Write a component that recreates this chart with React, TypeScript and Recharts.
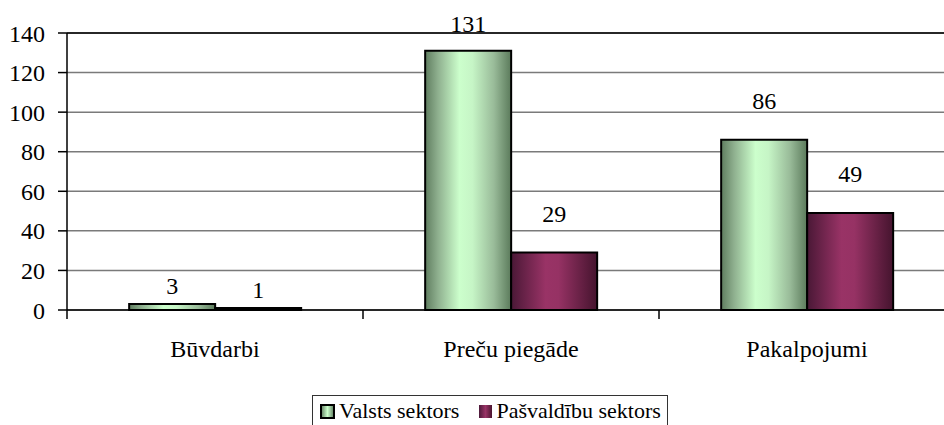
import React from 'react';
import {
    BarChart, Bar, XAxis, YAxis, CartesianGrid, Legend, LabelList, ReferenceLine,
} from 'recharts';

const categories = ['Būvdarbi', 'Preču piegāde', 'Pakalpojumi'];
const valstsSektors = [3, 131, 86];
const pasvaldibuSektors = [1, 29, 49];
const yTicks = [0, 20, 40, 60, 80, 100, 120, 140];
const seriesNames = ['Valsts sektors', 'Pašvaldību sektors'];

const data = categories.map((name, i) => ({
    name,
    valsts: valstsSektors[i],
    pasvaldibu: pasvaldibuSektors[i],
}));

const FONT = "'Liberation Serif', 'Times New Roman', serif";
const CHART_W = 960;
const CHART_H = 425;
const MARGIN = { top: 33, right: 5, left: 0, bottom: 0 };
const Y_AXIS_W = 67;
const BAND_W = (CHART_W - MARGIN.left - MARGIN.right - Y_AXIS_W) / categories.length;

// category label in the middle, tick mark on the band's left edge (Excel style)
const CategoryTick = (props: any) => {
    const { x, y, payload, index } = props;
    const left = x - BAND_W / 2;
    return (
        <g>
            <line x1={left} x2={left} y1={y - 9} y2={y} stroke="#000" strokeWidth={1.5} />
            {index === categories.length - 1 && (
                <line x1={x + BAND_W / 2} x2={x + BAND_W / 2} y1={y - 9} y2={y} stroke="#000" strokeWidth={1.5} />
            )}
            <text x={x} y={y + 38} textAnchor="middle" style={{ fontSize: 24, fontFamily: FONT }} fill="#000">
                {payload.value}
            </text>
        </g>
    );
};

const ValueLabel = (props: any) => {
    const { x, y, width, value } = props;
    const base = value < 10 ? y - 10 : Math.max(y - 31, 32);
    return (
        <text x={x + width / 2} y={base} textAnchor="middle" style={{ fontSize: 24, fontFamily: FONT }} fill="#000">
            {value}
        </text>
    );
};

const LegendBox = () => (
    <div style={{
        border: '1px solid #333', display: 'flex', alignItems: 'center',
        padding: '2px 6px 4px 7px', fontFamily: FONT, fontSize: 22, background: '#fff',
        whiteSpace: 'nowrap', lineHeight: '26px', color: '#000',
    }}>
        <span style={{
            width: 11, height: 11, border: '2px solid #000', display: 'inline-block',
            background: 'linear-gradient(90deg, #6f8f6f, #ccffcc 50%, #6f8f6f)', marginRight: 4,
        }} />
        <span style={{ marginRight: 20 }}>{seriesNames[0]}</span>
        <span style={{
            width: 13, height: 13, display: 'inline-block',
            background: 'linear-gradient(90deg, #4d1a3a, #993366 50%, #4a1530)', marginRight: 4,
        }} />
        <span>{seriesNames[1]}</span>
    </div>
);

export default function App() {
    return (
        <div style={{ position: 'fixed', left: 0, top: 0, width: 944, height: 425, overflow: 'hidden', background: '#fff', fontFamily: FONT }}>
            <BarChart
                width={CHART_W}
                height={CHART_H}
                data={data}
                margin={MARGIN}
                barCategoryGap="21%"
                barGap={0}
            >
                <defs>
                    <linearGradient id="gGreen" x1="0" y1="0" x2="1" y2="0">
                        <stop offset="0%" stopColor="#5f7d5f" />
                        <stop offset="15%" stopColor="#8fb08f" />
                        <stop offset="40%" stopColor="#ccffcc" />
                        <stop offset="55%" stopColor="#c6f5c6" />
                        <stop offset="80%" stopColor="#99bb99" />
                        <stop offset="100%" stopColor="#5b7a5b" />
                    </linearGradient>
                    <linearGradient id="gMaroon" x1="0" y1="0" x2="1" y2="0">
                        <stop offset="0%" stopColor="#4a1836" />
                        <stop offset="40%" stopColor="#993366" />
                        <stop offset="55%" stopColor="#963264" />
                        <stop offset="100%" stopColor="#45142e" />
                    </linearGradient>
                </defs>
                <CartesianGrid vertical={false} stroke="#7a7a7a" strokeWidth={1.5} />
                <ReferenceLine y={140} stroke="#000" strokeWidth={1.5} />
                <XAxis
                    dataKey="name"
                    height={CHART_H - 310 - MARGIN.bottom}
                    axisLine={{ stroke: '#000', strokeWidth: 1.5 }}
                    tickLine={false}
                    tickSize={9}
                    tickMargin={0}
                    interval={0}
                    tick={<CategoryTick />}
                />
                <YAxis
                    width={Y_AXIS_W}
                    domain={[0, 140]}
                    ticks={yTicks}
                    interval={0}
                    axisLine={{ stroke: '#000', strokeWidth: 1.5 }}
                    tickLine={{ stroke: '#000', strokeWidth: 1.5 }}
                    tickSize={9}
                    tickMargin={13}
                    tick={{ fontSize: 24, fontFamily: FONT, fill: '#000' }}
                />
                <Legend
                    layout="horizontal"
                    verticalAlign="middle"
                    wrapperStyle={{ top: 395, left: 312, width: 'auto' }}
                    content={<LegendBox />}
                />
                <Bar dataKey="valsts" name={seriesNames[0]} fill="url(#gGreen)" stroke="#000" strokeWidth={2} isAnimationActive={false}>
                    <LabelList dataKey="valsts" content={<ValueLabel />} />
                </Bar>
                <Bar dataKey="pasvaldibu" name={seriesNames[1]} fill="url(#gMaroon)" stroke="#000" strokeWidth={2} isAnimationActive={false}>
                    <LabelList dataKey="pasvaldibu" content={<ValueLabel />} />
                </Bar>
            </BarChart>
        </div>
    );
}
